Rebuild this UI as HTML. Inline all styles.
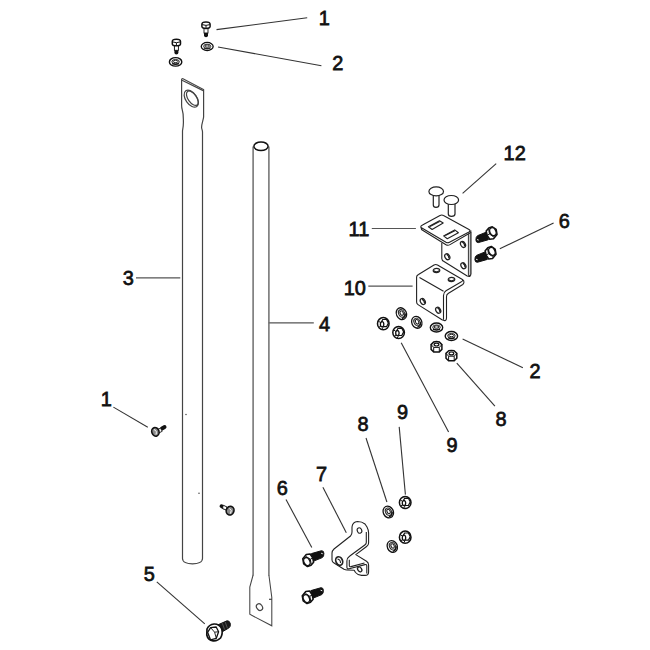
<!DOCTYPE html>
<html><head><meta charset="utf-8">
<style>
html,body{margin:0;padding:0;background:#fff;width:650px;height:650px;overflow:hidden}
svg{display:block}
text{font-family:"Liberation Sans",sans-serif;font-weight:normal;font-size:21px;fill:#111;stroke:#111;stroke-width:0.75}
.l{stroke:#333;stroke-width:1.1;fill:none}
.p{stroke:#444;stroke-width:1.2;fill:none}
.h{stroke:#111;stroke-width:1.3;fill:#fff}
.k{fill:#111;stroke:none}
</style></head><body>
<svg width="650" height="650" viewBox="0 0 650 650">

<!-- labels -->
<text text-anchor="middle" transform="translate(324.25 24.85) scale(0.95 1)">1</text>
<text text-anchor="middle" transform="translate(337.70 70.10) scale(0.95 1)">2</text>
<text text-anchor="middle" transform="translate(128.40 284.90) scale(0.95 1)">3</text>
<text text-anchor="middle" transform="translate(324.60 330.90) scale(0.95 1)">4</text>
<text text-anchor="middle" transform="translate(514.70 160.20) scale(0.95 1)">12</text>
<text text-anchor="middle" transform="translate(358.90 235.85) scale(0.95 1)">11</text>
<text text-anchor="middle" transform="translate(564.35 228.10) scale(0.95 1)">6</text>
<text text-anchor="middle" transform="translate(354.75 295.10) scale(0.95 1)">10</text>
<text text-anchor="middle" transform="translate(535.10 378.30) scale(0.95 1)">2</text>
<text text-anchor="middle" transform="translate(501.10 425.60) scale(0.95 1)">8</text>
<text text-anchor="middle" transform="translate(452.05 451.60) scale(0.95 1)">9</text>
<text text-anchor="middle" transform="translate(106.25 406.10) scale(0.95 1)">1</text>
<text text-anchor="middle" transform="translate(362.95 431.10) scale(0.95 1)">8</text>
<text text-anchor="middle" transform="translate(402.60 418.80) scale(0.95 1)">9</text>
<text text-anchor="middle" transform="translate(321.45 480.60) scale(0.95 1)">7</text>
<text text-anchor="middle" transform="translate(282.20 495.10) scale(0.95 1)">6</text>
<text text-anchor="middle" transform="translate(149.35 580.60) scale(0.95 1)">5</text>
<!-- leaders -->
<g class="l">
<path d="M216.5 29.6L307.2 17.8"/>
<path d="M218 47L321.4 65.8"/>
<path d="M136 277.9H180.3" style="stroke:#555"/>
<path d="M268.6 322.9H313.8" style="stroke:#555"/>
<path d="M462.6 193.4L496.2 163.7"/>
<path d="M371.8 228.5H415.9" style="stroke:#555"/>
<path d="M499.8 248.7L553.6 222.9"/>
<path d="M368.3 286.1H412.6" style="stroke:#555"/>
<path d="M462.6 339L522.9 367.8"/>
<path d="M456.8 363.1L494.9 406.2"/>
<path d="M401.2 342.8L448.6 432"/>
<path d="M113.4 407.1L147.8 427.3"/>
<path d="M366 438L386.9 502"/>
<path d="M399.2 426.9L405.4 494.6"/>
<path d="M322.9 487.2L346.3 532.8"/>
<path d="M286 499.5L311.8 547.5"/>
<path d="M156.8 581.8L204.8 623.8"/>
</g>
<!-- pipe 3 -->
<g class="p">
<path d="M182.5 558.5V131C182.5 129.5 183.5 127 183.4 122C183.3 117 183.6 114 182.2 109.5C181.7 108 181.6 107 181.6 105V80Q181.5 78.3 183 78.8L203.6 89.5V117C203.3 120 201.5 124 201.6 127.5C201.7 129.5 202.5 130 202.5 132V558.5C202.5 562 198 563.9 192.5 563.9C187 563.9 182.5 562 182.5 558.5Z"/>
<path d="M182 80.3L203.7 90.9"/>
<ellipse cx="191.3" cy="98.7" rx="5.6" ry="9.6" transform="rotate(-35 191.3 98.7)"/>
<ellipse cx="192.3" cy="98.2" rx="4.2" ry="8.3" transform="rotate(-35 192.3 98.2)"/>
</g>
<!-- pipe 4 -->
<g class="p">
<path d="M253.1 146.5V575.6M268.9 575.6V146.5" style="stroke:#6a6a6a;stroke-width:1.45"/>
<path d="M253.1 575L249.8 587.1V614.3L271.8 625.8V597.5L268.9 575" style="stroke:#444;stroke-width:1.05"/>
<path d="M269 599.3H272"/>
<ellipse cx="261" cy="146.3" rx="7.1" ry="4.3" style="stroke:#111;stroke-width:1.5"/>
<ellipse cx="259.5" cy="607.1" rx="2.8" ry="3.6" transform="rotate(-35 259.5 607.1)"/>
</g>

<!-- top screws & washers (1,2) -->
<g>
<path d="M206.0 30.0V35.3" stroke="#111" stroke-width="4" stroke-linecap="round"/>
<rect x="204.0" y="28.0" width="4" height="5" fill="#fff" stroke="#111" stroke-width="0.9"/>
<path d="M201.9 24.2Q201.9 22.0 206.0 22.0Q210.1 22.0 210.1 24.2V26.6Q210.1 28.4 206.0 28.4Q201.9 28.4 201.9 26.6Z" fill="#fff" stroke="#111" stroke-width="1.5"/>
<path d="M202.2 24.6Q206.0 26.2 209.8 24.6M206.0 25.6V28.3" fill="none" stroke="#111" stroke-width="1"/>
<path d="M176.4 47.3V52.6" stroke="#111" stroke-width="4" stroke-linecap="round"/>
<rect x="174.4" y="45.3" width="4" height="5" fill="#fff" stroke="#111" stroke-width="0.9"/>
<path d="M172.3 41.5Q172.3 39.3 176.4 39.3Q180.5 39.3 180.5 41.5V43.9Q180.5 45.7 176.4 45.7Q172.3 45.7 172.3 43.9Z" fill="#fff" stroke="#111" stroke-width="1.5"/>
<path d="M172.6 41.9Q176.4 43.5 180.2 41.9M176.4 42.9V45.6" fill="none" stroke="#111" stroke-width="1"/>
<g transform="translate(207.2 46.5) scale(0.96 0.9)"><ellipse rx="6.2" ry="4.5" fill="#fff" stroke="#111" stroke-width="1.4"/>
<ellipse cy="-0.2" rx="3.8" ry="2.4" fill="#ccc" stroke="#222" stroke-width="0.9"/>
<ellipse cy="-0.5" rx="2.3" ry="1.2" fill="#fff" stroke="#111" stroke-width="0.9"/>
<path d="M-3.5 1.8Q0 3.4 3.5 1.8" stroke="#111" stroke-width="1.2" fill="none"/></g>
<g transform="translate(175.6 61.9) scale(1 0.95)"><ellipse rx="6.2" ry="4.5" fill="#fff" stroke="#111" stroke-width="1.4"/>
<ellipse cy="-0.2" rx="3.8" ry="2.4" fill="#ccc" stroke="#222" stroke-width="0.9"/>
<ellipse cy="-0.5" rx="2.3" ry="1.2" fill="#fff" stroke="#111" stroke-width="0.9"/>
<path d="M-3.5 1.8Q0 3.4 3.5 1.8" stroke="#111" stroke-width="1.2" fill="none"/></g>
</g>
<!-- carriage bolts 12 -->
<g stroke="#222" stroke-width="1.2" fill="#fff">
<path d="M433.3 194V205Q433.3 207.3 436 207.3Q439 207.3 439 205V194"/>
<ellipse cx="436.2" cy="191.4" rx="7.3" ry="4.5"/>
<path d="M448.3 203V214Q448.3 216.3 451.5 216.3Q455 216.3 455 214V203"/>
<ellipse cx="451.3" cy="200" rx="7.3" ry="4.5"/>
</g>
<!-- bracket 11 -->
<g stroke="#222" stroke-width="1.1" fill="#fff" stroke-linejoin="round">
<path d="M441.8 243V258.5Q441.8 260.5 444 261.5L467.2 276Q470.8 277.5 470.8 274V232"/>
<path d="M468.4 233.5L470.8 232V274Q470.8 276.5 468.4 275.5Z" fill="#ccc" stroke-width="0.9"/>
<path d="M421.3 227.2Q421 229.8 423 230.5L446 244.8Q448 245.8 450 244.6L469.5 233.2Q471.5 232 470.8 230.5"/>
<path d="M420.8 226.9Q420.5 226 422.5 225L440 215.5Q441.8 214.5 443.5 215.5L469 229.5Q471 230.8 469 232L449.5 242.3Q447.8 243.3 446 242.3L422.3 228.3Q420.8 227.5 420.8 226.9Z"/>
<path d="M428.4 226.7L439.5 220.7L443.2 223L432.1 229.5Z"/>
<path d="M430 226.4L439.6 221.6"/>
<path d="M443.6 235.9L454.7 229.9L458.4 232.7L447.3 238.7Z"/>
<path d="M445.3 235.6L454.8 230.8"/>
<g transform="translate(463.0 244.4) rotate(-30)"><ellipse rx="2.3" ry="3.2" stroke-width="1.2"/><path d="M0.6 -2.5Q2.1 0 0.6 2.5" stroke-width="1.4" fill="none"/></g>
<g transform="translate(447.3 256.7) rotate(-30)"><ellipse rx="2.3" ry="3.2" stroke-width="1.2"/><path d="M0.6 -2.5Q2.1 0 0.6 2.5" stroke-width="1.4" fill="none"/></g>
<g transform="translate(463.4 265.7) rotate(-30)"><ellipse rx="2.3" ry="3.2" stroke-width="1.2"/><path d="M0.6 -2.5Q2.1 0 0.6 2.5" stroke-width="1.4" fill="none"/></g>
</g>
<!-- bolts 6 right -->
<g>
<g transform="translate(799.3 830.3) scale(-1 -1)"><path d="M310.9 590.6L321 587.7Q323.3 587.6 323.4 590.3Q323.5 593.4 321.8 594.6L312.7 598.3Z" fill="#111" stroke="#111" stroke-width="1"/>
<path d="M320.6 590.2L322.3 590.8" stroke="#fff" stroke-width="0.9"/>
<polygon points="302.3,595.8 305.8,591.5 309.6,591 312.2,594.9 313.1,599.2 310.5,602.2 307,603.5 303.2,600.9" fill="#fff" stroke="#111" stroke-width="1.6" stroke-linejoin="round"/>
<path d="M305.6 593.5L309.8 596.2L310.8 601.8M309.8 596.2L312.3 595" fill="none" stroke="#111" stroke-width="1"/>
<ellipse cx="306.4" cy="598.6" rx="3" ry="4.2" transform="rotate(-25 306.4 598.6)" fill="#fff" stroke="#111" stroke-width="1.4"/></g>
<g transform="translate(798.3 850) scale(-1 -1)"><path d="M310.9 590.6L321 587.7Q323.3 587.6 323.4 590.3Q323.5 593.4 321.8 594.6L312.7 598.3Z" fill="#111" stroke="#111" stroke-width="1"/>
<path d="M320.6 590.2L322.3 590.8" stroke="#fff" stroke-width="0.9"/>
<polygon points="302.3,595.8 305.8,591.5 309.6,591 312.2,594.9 313.1,599.2 310.5,602.2 307,603.5 303.2,600.9" fill="#fff" stroke="#111" stroke-width="1.6" stroke-linejoin="round"/>
<path d="M305.6 593.5L309.8 596.2L310.8 601.8M309.8 596.2L312.3 595" fill="none" stroke="#111" stroke-width="1"/>
<ellipse cx="306.4" cy="598.6" rx="3" ry="4.2" transform="rotate(-25 306.4 598.6)" fill="#fff" stroke="#111" stroke-width="1.4"/></g>
</g>
<!-- bracket 10 -->
<g stroke="#222" stroke-width="1.1" fill="#fff" stroke-linejoin="round">
<path d="M416.6 277V302Q416.6 303.8 418 304.6L442 319.8Q446.5 322 446.5 318V296.5Q446.5 294.5 448.5 293.3L462.8 284.5Q464.5 283 463.8 281Q463 279.8 462 279.2L437.5 265Q435.7 264 434 265L418.5 274.5Q416.6 275.5 416.6 277Z"/>
<path d="M419.5 277.4L443.5 291.2" fill="none"/>
<path d="M462.8 280Q462.5 281.3 461 282L446 290.8Q443.5 292.3 443.5 295.5V319.8" fill="none"/>
<g transform="translate(436.5 270.5)"><ellipse rx="3.3" ry="2.1" stroke-width="1.2"/><path d="M-2.6 0.2Q0 2.4 2.6 0.2" stroke-width="1.3" fill="none"/></g>
<g transform="translate(451.5 279.5)"><ellipse rx="3.3" ry="2.1" stroke-width="1.2"/><path d="M-2.6 0.2Q0 2.4 2.6 0.2" stroke-width="1.3" fill="none"/></g>
<g transform="translate(422.8 301.5) rotate(-30)"><ellipse rx="2.3" ry="3.2" stroke-width="1.2"/><path d="M0.6 -2.5Q2.1 0 0.6 2.5" stroke-width="1.4" fill="none"/></g>
<g transform="translate(438.2 310.2) rotate(-30)"><ellipse rx="2.3" ry="3.2" stroke-width="1.2"/><path d="M0.6 -2.5Q2.1 0 0.6 2.5" stroke-width="1.4" fill="none"/></g>
</g>
<!-- nuts & washers right cluster -->
<g>
<g transform="translate(383.3 323.7)"><ellipse rx="5.8" ry="6.1" fill="#fff" stroke="#111" stroke-width="1.5"/>
<polygon points="5.10,-0.60 3.20,3.02 -0.60,3.02 -2.50,-0.60 -0.60,-4.22 3.20,-4.22" fill="#fff" stroke="#111" stroke-width="1.2"/>
<ellipse cx="-1.2" cy="0.6" rx="1.7" ry="2.6" fill="#fff" stroke="#111" stroke-width="1.3"/>
<path d="M-5 -2.6L-2.8 -1.2M-4.3 3.4L-2.6 2.6M-1.8 5.9L-0.2 3.6" stroke="#111" stroke-width="1" fill="none"/></g>
<g transform="translate(398.6 332.5)"><ellipse rx="5.8" ry="6.1" fill="#fff" stroke="#111" stroke-width="1.5"/>
<polygon points="5.10,-0.60 3.20,3.02 -0.60,3.02 -2.50,-0.60 -0.60,-4.22 3.20,-4.22" fill="#fff" stroke="#111" stroke-width="1.2"/>
<ellipse cx="-1.2" cy="0.6" rx="1.7" ry="2.6" fill="#fff" stroke="#111" stroke-width="1.3"/>
<path d="M-5 -2.6L-2.8 -1.2M-4.3 3.4L-2.6 2.6M-1.8 5.9L-0.2 3.6" stroke="#111" stroke-width="1" fill="none"/></g>
<g transform="translate(401.4 313.7) rotate(-25)"><ellipse rx="5" ry="6.1" fill="#fff" stroke="#111" stroke-width="1.3"/>
<ellipse cx="0.3" cy="-0.2" rx="3" ry="4" fill="#ccc" stroke="#222" stroke-width="0.9"/>
<ellipse cx="0.5" cy="-0.4" rx="1.5" ry="2.3" fill="#fff" stroke="#111" stroke-width="0.9"/>
<path d="M-1.5 4.6Q2 5.5 3.6 1.5" stroke="#111" stroke-width="1.3" fill="none"/></g>
<g transform="translate(416.8 322.3) rotate(-25)"><ellipse rx="5" ry="6.1" fill="#fff" stroke="#111" stroke-width="1.3"/>
<ellipse cx="0.3" cy="-0.2" rx="3" ry="4" fill="#ccc" stroke="#222" stroke-width="0.9"/>
<ellipse cx="0.5" cy="-0.4" rx="1.5" ry="2.3" fill="#fff" stroke="#111" stroke-width="0.9"/>
<path d="M-1.5 4.6Q2 5.5 3.6 1.5" stroke="#111" stroke-width="1.3" fill="none"/></g>
<g transform="translate(436.5 327.5)"><ellipse rx="6.2" ry="4.5" fill="#fff" stroke="#111" stroke-width="1.4"/>
<ellipse cy="-0.2" rx="3.8" ry="2.4" fill="#ccc" stroke="#222" stroke-width="0.9"/>
<ellipse cy="-0.5" rx="2.3" ry="1.2" fill="#fff" stroke="#111" stroke-width="0.9"/>
<path d="M-3.5 1.8Q0 3.4 3.5 1.8" stroke="#111" stroke-width="1.2" fill="none"/></g>
<g transform="translate(451.4 336)"><ellipse rx="6.2" ry="4.5" fill="#fff" stroke="#111" stroke-width="1.4"/>
<ellipse cy="-0.2" rx="3.8" ry="2.4" fill="#ccc" stroke="#222" stroke-width="0.9"/>
<ellipse cy="-0.5" rx="2.3" ry="1.2" fill="#fff" stroke="#111" stroke-width="0.9"/>
<path d="M-3.5 1.8Q0 3.4 3.5 1.8" stroke="#111" stroke-width="1.2" fill="none"/></g>
</g>
<g stroke="#111" fill="#fff">
<path d="M431.1 344.6L433.7 342.0Q436.5 341.2 439.3 342.0L441.9 344.6V349.4L439.3 352.0H433.7L431.1 349.4Z" stroke-width="1.5"/>
<path d="M431.1 344.6L433.7 347.4H439.3L441.9 344.6M433.7 347.4V352.0M439.3 347.4V352.0" stroke-width="1" fill="none"/>
<ellipse cx="436.5" cy="344.6" rx="2.4" ry="1.4" stroke-width="1.2"/>
<path d="M446.0 353.4L448.6 350.8Q451.4 350.0 454.2 350.8L456.8 353.4V358.2L454.2 360.8H448.6L446.0 358.2Z" stroke-width="1.5"/>
<path d="M446.0 353.4L448.6 356.2H454.2L456.8 353.4M448.6 356.2V360.8M454.2 356.2V360.8" stroke-width="1" fill="none"/>
<ellipse cx="451.4" cy="353.4" rx="2.4" ry="1.4" stroke-width="1.2"/>
</g>
<!-- screws mid (1) -->
<g stroke="#111" fill="#fff">
<path d="M162 428.5L164.6 427" stroke-width="3.8" stroke-linecap="round"/>
<path d="M157.5 429.5L160.6 428.1L162.2 431.3L158.8 433Z" stroke-width="0.9"/>
<ellipse cx="155.4" cy="431.8" rx="3.6" ry="4.4" transform="rotate(-20 155.4 431.8)" fill="#8a8a8a" stroke-width="1.6"/>
<path d="M154 429.6Q157.3 430.5 156 434.5" stroke="#fff" stroke-width="1" fill="none"/>
<path d="M221.5 506.2L223.5 507.3" stroke-width="3.8" stroke-linecap="round"/>
<path d="M223.2 505.2L227 507L226 510L222.5 508.5Z" stroke-width="0.9"/>
<ellipse cx="230.1" cy="510.6" rx="3.8" ry="4.4" transform="rotate(20 230.1 510.6)" fill="#8a8a8a" stroke-width="1.6"/>
<path d="M229.5 508.5Q232.5 510 230.5 513.5" stroke="#fff" stroke-width="1" fill="none"/>
</g>
<circle cx="186" cy="414.5" r="0.7" fill="#333"/>
<circle cx="199" cy="493.2" r="0.7" fill="#333"/>
<!-- bracket 7 -->
<g stroke="#222" stroke-width="1.1" fill="#fff" stroke-linejoin="round">
<path d="M334 549L350.5 536Q352 534.5 352 532V527Q352.5 521.8 357.5 521.5Q362 521.5 365 524L367 527Q368.6 530 368.6 533V543Q368.6 545 366.6 546.5L355.8 554.6L366.5 561.3Q368.6 562.6 368.6 565V572Q368.6 575.4 365 575.4H361.5Q358 575.4 355.5 572.5L354.2 570.2L347 570Q345.5 570 344 569.3L334 563Q332 562 332 560V553Q332 551 334 549Z"/>
<path d="M366.3 532V542.5Q366.3 544 364.8 545L349.8 556Q346.9 558 346.9 561V567.3Q346.9 569.3 349.2 568.8L365 564.6Q366.8 564.2 366.8 566V573.5" fill="none"/>
<path d="M349.3 559.8V565.6Q349.3 567 351 566.6L364.5 563" fill="none"/>
<ellipse cx="359.7" cy="569.4" rx="1.9" ry="2.6" transform="rotate(-35 359.7 569.4)" stroke-width="1.3"/>
<ellipse cx="339.2" cy="561" rx="3.3" ry="4.3" transform="rotate(-25 339.2 561)" stroke-width="1.7"/>
<path d="M337.5 559Q340.5 559.5 340.5 563" stroke-width="1.1" fill="none"/>
<ellipse cx="359.5" cy="530.5" rx="2.2" ry="2.8" transform="rotate(-25 359.5 530.5)"/>
</g>
<!-- nuts & washers lower -->
<g>
<g transform="translate(405.2 502.5)"><ellipse rx="5.8" ry="6.1" fill="#fff" stroke="#111" stroke-width="1.5"/>
<polygon points="5.10,-0.60 3.20,3.02 -0.60,3.02 -2.50,-0.60 -0.60,-4.22 3.20,-4.22" fill="#fff" stroke="#111" stroke-width="1.2"/>
<ellipse cx="-1.2" cy="0.6" rx="1.7" ry="2.6" fill="#fff" stroke="#111" stroke-width="1.3"/>
<path d="M-5 -2.6L-2.8 -1.2M-4.3 3.4L-2.6 2.6M-1.8 5.9L-0.2 3.6" stroke="#111" stroke-width="1" fill="none"/></g>
<g transform="translate(405.2 537.2)"><ellipse rx="5.8" ry="6.1" fill="#fff" stroke="#111" stroke-width="1.5"/>
<polygon points="5.10,-0.60 3.20,3.02 -0.60,3.02 -2.50,-0.60 -0.60,-4.22 3.20,-4.22" fill="#fff" stroke="#111" stroke-width="1.2"/>
<ellipse cx="-1.2" cy="0.6" rx="1.7" ry="2.6" fill="#fff" stroke="#111" stroke-width="1.3"/>
<path d="M-5 -2.6L-2.8 -1.2M-4.3 3.4L-2.6 2.6M-1.8 5.9L-0.2 3.6" stroke="#111" stroke-width="1" fill="none"/></g>
<g transform="translate(388.3 512) rotate(-25)"><ellipse rx="5" ry="6.1" fill="#fff" stroke="#111" stroke-width="1.3"/>
<ellipse cx="0.3" cy="-0.2" rx="3" ry="4" fill="#ccc" stroke="#222" stroke-width="0.9"/>
<ellipse cx="0.5" cy="-0.4" rx="1.5" ry="2.3" fill="#fff" stroke="#111" stroke-width="0.9"/>
<path d="M-1.5 4.6Q2 5.5 3.6 1.5" stroke="#111" stroke-width="1.3" fill="none"/></g>
<g transform="translate(392.3 546.5) rotate(-25)"><ellipse rx="5" ry="6.1" fill="#fff" stroke="#111" stroke-width="1.3"/>
<ellipse cx="0.3" cy="-0.2" rx="3" ry="4" fill="#ccc" stroke="#222" stroke-width="0.9"/>
<ellipse cx="0.5" cy="-0.4" rx="1.5" ry="2.3" fill="#fff" stroke="#111" stroke-width="0.9"/>
<path d="M-1.5 4.6Q2 5.5 3.6 1.5" stroke="#111" stroke-width="1.3" fill="none"/></g>
</g>
<!-- bolts 6 lower -->
<g>
<g><path d="M310.9 590.6L321 587.7Q323.3 587.6 323.4 590.3Q323.5 593.4 321.8 594.6L312.7 598.3Z" fill="#111" stroke="#111" stroke-width="1"/>
<path d="M320.6 590.2L322.3 590.8" stroke="#fff" stroke-width="0.9"/>
<polygon points="302.3,595.8 305.8,591.5 309.6,591 312.2,594.9 313.1,599.2 310.5,602.2 307,603.5 303.2,600.9" fill="#fff" stroke="#111" stroke-width="1.6" stroke-linejoin="round"/>
<path d="M305.6 593.5L309.8 596.2L310.8 601.8M309.8 596.2L312.3 595" fill="none" stroke="#111" stroke-width="1"/>
<ellipse cx="306.4" cy="598.6" rx="3" ry="4.2" transform="rotate(-25 306.4 598.6)" fill="#fff" stroke="#111" stroke-width="1.4"/></g>
<g transform="translate(0.5 -37)"><path d="M310.9 590.6L321 587.7Q323.3 587.6 323.4 590.3Q323.5 593.4 321.8 594.6L312.7 598.3Z" fill="#111" stroke="#111" stroke-width="1"/>
<path d="M320.6 590.2L322.3 590.8" stroke="#fff" stroke-width="0.9"/>
<polygon points="302.3,595.8 305.8,591.5 309.6,591 312.2,594.9 313.1,599.2 310.5,602.2 307,603.5 303.2,600.9" fill="#fff" stroke="#111" stroke-width="1.6" stroke-linejoin="round"/>
<path d="M305.6 593.5L309.8 596.2L310.8 601.8M309.8 596.2L312.3 595" fill="none" stroke="#111" stroke-width="1"/>
<ellipse cx="306.4" cy="598.6" rx="3" ry="4.2" transform="rotate(-25 306.4 598.6)" fill="#fff" stroke="#111" stroke-width="1.4"/></g>
</g>
<!-- bolt 5 -->
<g stroke="#111" fill="#fff" stroke-linejoin="round">
<path d="M217.5 625L227 620.8Q229.5 620.5 230.3 623.5Q230.8 626.8 228.8 628L221 632.5Z" fill="#1a1a1a" stroke-width="1"/>
<path d="M222.3 623.2L224.6 629.6M225.2 622L227.4 628.2" stroke="#777" stroke-width="0.6"/>
<path d="M207 629Q209 624.5 214 624Q219.5 623.8 221.8 629Q223 634 220.5 638Q217.5 641.2 213 640.8Q208 640.2 206.8 635Z" stroke-width="1.7"/>
<polygon points="207.6,632.3 210.6,627.6 216.2,627 218.6,631.7 216.3,638.3 210.5,639.8" stroke-width="1.3"/>
<path d="M210.6 627.6L214.6 632.2L216.3 638.3M214.6 632.2L218.6 631.7" stroke-width="0.9" fill="none"/>
</g>
</svg>
</body></html>
